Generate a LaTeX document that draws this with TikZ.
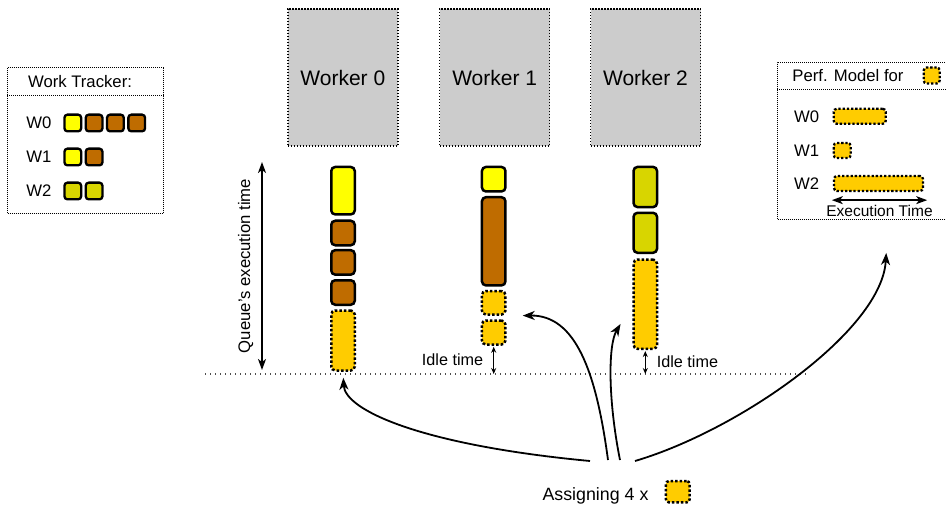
\documentclass[tikz,border=0pt]{standalone}
\usepackage{fontspec}
\setmainfont{Liberation Sans}
\usetikzlibrary{arrows.meta}

\definecolor{ready}{HTML}{FFFF00}
\definecolor{busy}{HTML}{BF6C00}
\definecolor{wtwo}{HTML}{D8D500}
\definecolor{gold}{HTML}{FFCC00}
\definecolor{wgray}{HTML}{CCCCCC}

\begin{document}
\begin{tikzpicture}[x=1pt, y=-1pt]
  \tikzset{
    txt/.style={inner sep=0pt, font=\fontsize{16.7}{20}\selectfont},
    task/.style={draw, line width=2.5pt, rounded corners=4pt, inner sep=0pt, minimum width=23.5pt},
    plan/.style={task, fill=gold, dash pattern=on 2.5pt off 2pt},
    mini/.style={draw, line width=2.3pt, rounded corners=3pt, inner sep=0pt, minimum width=16.7pt, minimum height=16.7pt},
    planbar/.style={mini, fill=gold, dash pattern=on 2.3pt off 1.9pt, minimum height=15pt},
    worker/.style={draw, fill=wgray, line width=1.4pt, dash pattern=on 1.4pt off 1.6pt,
      minimum width=110pt, minimum height=137pt, font=\fontsize{21}{24}\selectfont},
    panel/.style={draw, line width=1pt, dash pattern=on 1pt off 1pt, inner sep=0pt, anchor=north west},
    panel line/.style={line width=1pt, dash pattern=on 1pt off 1pt},
    horizon/.style={line width=1.2pt, black!70, dash pattern=on 1.2pt off 3.8pt},
    flow/.style={-{Stealth[length=12pt, width=9pt, inset=3.5pt]}, line width=1.8pt},
    span/.style={{Stealth[length=11pt, width=8pt, inset=3pt]}-{Stealth[length=11pt, width=8pt, inset=3pt]}, line width=1.6pt},
    gap/.style={{Stealth[length=6pt, width=5pt]}-{Stealth[length=6pt, width=5pt]}, line width=1pt}
  }
  \useasboundingbox (0,0) rectangle (946,508);

  % work tracker
  \node[panel, minimum width=156pt, minimum height=146pt] (tracker) at (7,67) {};
  \draw[panel line] ([yshift=-29pt]tracker.north west) -- ([yshift=-29pt]tracker.north east);
  \node[txt] (trackertitle) at (80,81.5) {Work Tracker:};
  \node[txt] (tw0) at (39,123) {W0};
  \node[txt] (tw1) at (39,157) {W1};
  \node[txt] (tw2) at (39,191) {W2};
  \node[mini, fill=ready] (t0a) at (72.8,123) {};
  \foreach \i in {1,2,3}
    \node[mini, fill=busy] (t0\i) at ({72.8+21.3*\i},123) {};
  \node[mini, fill=ready] (t1a) at (72.8,157) {};
  \node[mini, fill=busy] (t1b) at (94.1,157) {};
  \node[mini, fill=wtwo] (t2a) at (72.8,191) {};
  \node[mini, fill=wtwo] (t2b) at (94.1,191) {};

  % workers
  \node[worker] (worker0) at (342.8,77.5) {Worker 0};
  \node[worker] (worker1) at (494.7,77.5) {Worker 1};
  \node[worker] (worker2) at (645.5,77.5) {Worker 2};

  % queues
  \node[task, fill=ready, minimum height=47.5pt] (q0a) at (343,190.7) {};
  \node[task, fill=busy, minimum height=24.5pt] (q0b) at (343,233) {};
  \node[task, fill=busy, minimum height=24.5pt] (q0c) at (343,262.4) {};
  \node[task, fill=busy, minimum height=24.5pt] (q0d) at (343,292.5) {};
  \node[plan, minimum height=60pt] (q0e) at (343,340.5) {};

  \node[task, fill=ready, minimum height=24.5pt] (q1a) at (493.7,179.2) {};
  \node[task, fill=busy, minimum height=88.2pt] (q1b) at (493.7,241.3) {};
  \node[plan, minimum height=23.5pt] (q1c) at (493.7,302.8) {};
  \node[plan, minimum height=24pt] (q1d) at (493.7,332.5) {};

  \node[task, fill=wtwo, minimum height=40.2pt] (q2a) at (645.3,187) {};
  \node[task, fill=wtwo, minimum height=40pt] (q2b) at (645.3,232.8) {};
  \node[plan, minimum height=89.2pt] (q2c) at (645.3,304.2) {};

  % time axis
  \coordinate (base west) at (205,374);
  \coordinate (base east) at (807,374);
  \draw[horizon] (base west) -- (base east);
  \coordinate (qbot) at (262,370);
  \coordinate (qtop) at (262,162);
  \draw[span] (qbot) -- (qtop) node[midway, sloped, above=8pt, txt] {Queue's execution time};
  \draw[gap, shorten <=1pt] (q1d.south) -- (q1d.south |- base west)
    node[midway, left=10pt, txt, font=\fontsize{16.2}{19}\selectfont] {Idle time};
  \draw[gap, shorten <=1pt] (q2c.south) -- (q2c.south |- base west)
    node[midway, right=11pt, txt, font=\fontsize{16.2}{19}\selectfont] {Idle time};

  % performance model
  \node[panel, minimum width=171pt, minimum height=157pt] (perf) at (777,62) {};
  \draw[panel line] ([yshift=-28pt]perf.north west) -- ([yshift=-28pt]perf.north east);
  \node[txt] (perftitle) at (848,76) {Perf. Model for};
  \node[planbar, minimum width=16pt, minimum height=16pt] (perfkey) at (931.7,75.5) {};
  \node[txt] (pw0label) at (806.7,116.7) {W0};
  \node[txt] (pw1label) at (806.7,151) {W1};
  \node[txt] (pw2label) at (806.7,183.5) {W2};
  \node[planbar, minimum width=52pt] (pw0) at (859.7,116.3) {};
  \node[planbar, minimum width=17pt] (pw1) at (842.2,150.5) {};
  \node[planbar, minimum width=89pt] (pw2) at (878.5,183.5) {};
  \draw[span, line width=1.3pt] ([xshift=-1pt, yshift=-8pt]pw2.south west) -- ([xshift=3pt, yshift=-8pt]pw2.south east)
    node[midway, below=4pt, txt, font=\fontsize{15.5}{18}\selectfont] {Execution Time};

  % assignment
  \node[txt, anchor=base, font=\fontsize{17.8}{21}\selectfont] (assign) at (595.5,500.5) {Assigning 4 x};
  \node[plan, minimum width=23.7pt, minimum height=21.3pt, rounded corners=3pt] (assignkey) at (677.8,491.7) {};
  \coordinate (fan0) at (590,461);
  \coordinate (fan1) at (608,460);
  \coordinate (fan2) at (620,460);
  \coordinate (fan3) at (635,461);
  \draw[flow, shorten >=6pt] (fan0) .. controls (420,445) and (345,410) .. (q0e.south);
  \draw[flow, shorten >=16pt] (fan1) .. controls (596,370) and (575,315) .. (q1c.south east);
  \draw[flow, shorten >=23pt] (fan2) .. controls (608,400) and (608,345) .. (q2c.west);
  \draw[flow, shorten >=33pt] (fan3) .. controls (740,430) and (882,330) .. ([xshift=25pt]perf.south);
\end{tikzpicture}
\end{document}
